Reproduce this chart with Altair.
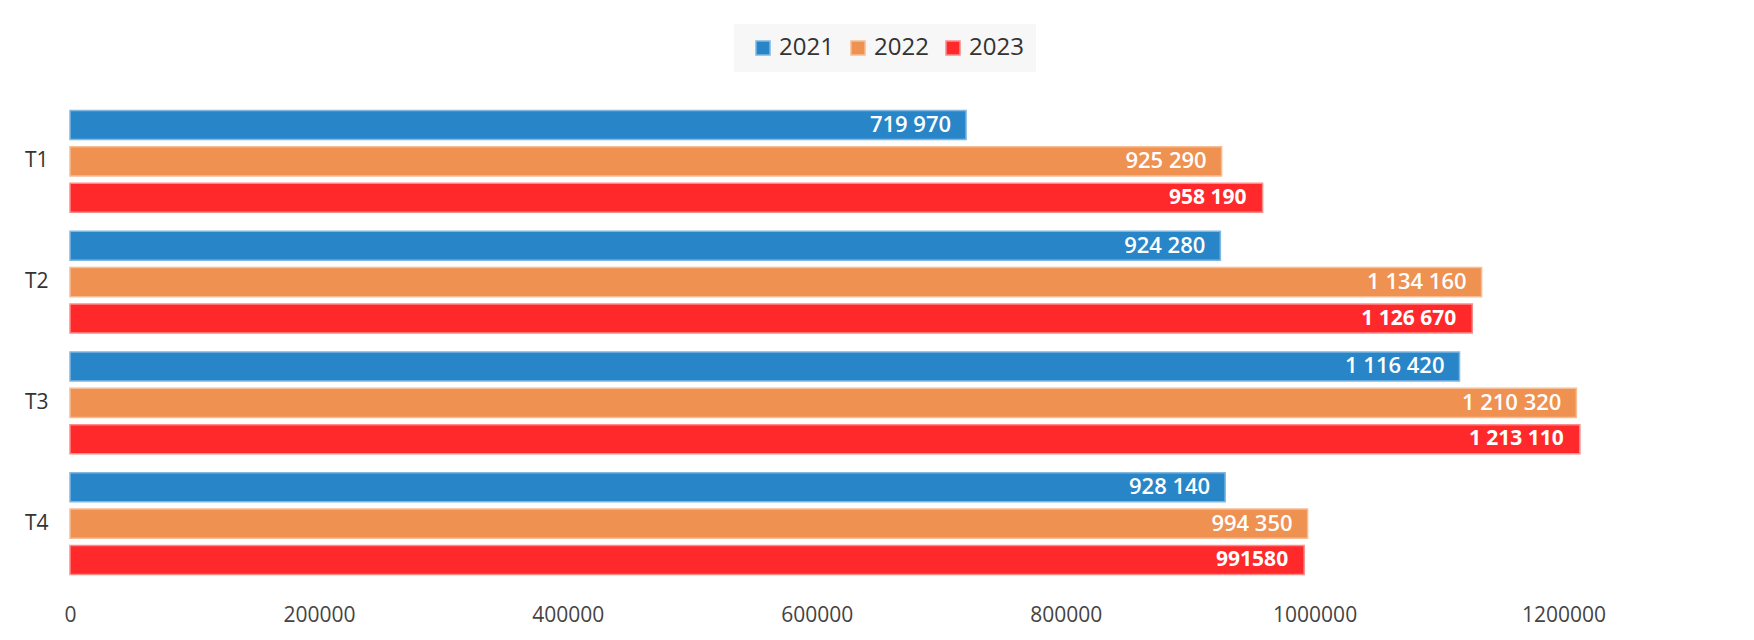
import altair as alt
import pandas as pd

quarters = ["T1", "T2", "T3", "T4"]
years = ["2021", "2022", "2023"]
values_2021 = [719970, 924280, 1116420, 928140]
values_2022 = [925290, 1134160, 1210320, 994350]
values_2023 = [958190, 1126670, 1213110, 991580]
labels_2021 = ["719 970", "924 280", "1 116 420", "928 140"]
labels_2022 = ["925 290", "1 134 160", "1 210 320", "994 350"]
labels_2023 = ["958 190", "1 126 670", "1 213 110", "991580"]
x_ticks = [0, 200000, 400000, 600000, 800000, 1000000, 1200000]

fills = ["#2886c8", "#ef9150", "#ff282a"]
strokes = ["#80b8e2", "#f6bd95", "#ff8a8a"]

rows = []
for y, vals, labs in zip(years, [values_2021, values_2022, values_2023],
                         [labels_2021, labels_2022, labels_2023]):
    for q, v, l in zip(quarters, vals, labs):
        rows.append({"quarter": q, "year": y, "value": v, "label": l})
df = pd.DataFrame(rows)

FONT = "Open Sans"

y_enc = alt.Y("quarter:N", sort=quarters,
              scale=alt.Scale(paddingInner=0.156, paddingOuter=0.078),
              axis=alt.Axis(title=None, domain=False, ticks=False, labelFont=FONT,
                            labelFontSize=21, labelColor="#333333", labelPadding=22))
yoff_enc = alt.YOffset("year:N", sort=years,
                       scale=alt.Scale(paddingInner=0.2, paddingOuter=0))
x_enc = alt.X("value:Q", scale=alt.Scale(domain=[0, 1300000], nice=False),
              axis=alt.Axis(title=None, domain=False, ticks=False, grid=False,
                            values=x_ticks, format="d", labelFont=FONT, labelFlush=False,
                            labelFontSize=21, labelColor="#444444", labelPadding=20))

legend_cfg = dict(title=None, orient="none", direction="horizontal",
                  legendX=664, legendY=-77, fillColor="#f7f7f7",
                  padding=12, symbolOffset=5, symbolType="square",
                  symbolSize=196, symbolStrokeWidth=1.5,
                  labelFont=FONT, labelFontSize=24,
                  labelColor="#333333", labelOffset=4,
                  columnPadding=7)

bars = alt.Chart(df).mark_bar(strokeWidth=1.5).encode(
    x=x_enc,
    y=y_enc,
    yOffset=yoff_enc,
    color=alt.Color("year:N", sort=years,
                    scale=alt.Scale(domain=years, range=fills),
                    legend=alt.Legend(**legend_cfg)),
    stroke=alt.Stroke("year:N", sort=years,
                      scale=alt.Scale(domain=years, range=strokes),
                      legend=alt.Legend(**legend_cfg)),
)

text_normal = alt.Chart(df).transform_filter(alt.datum.year != "2023").mark_text(
    align="right", baseline="middle", dx=-15, color="white", font=FONT,
    fontSize=22, fontWeight=600
).encode(x="value:Q", y=alt.Y("quarter:N", sort=quarters),
         yOffset=alt.YOffset("year:N", sort=years), text="label:N")

text_bold = alt.Chart(df).transform_filter(alt.datum.year == "2023").mark_text(
    align="right", baseline="middle", dx=-16, color="white", font=FONT,
    fontSize=21, fontWeight="bold"
).encode(x="value:Q", y=alt.Y("quarter:N", sort=quarters),
         yOffset=alt.YOffset("year:N", sort=years), text="label:N")

chart = alt.layer(bars, text_normal, text_bold).properties(
    width=1618, height=483,
    autosize=alt.AutoSizeParams(type="none"),
    padding={"left": 62, "top": 93, "right": 50, "bottom": 49},
    background="white",
).configure_view(stroke=None)

chart.save("out.html", embed_options={"renderer": "svg", "actions": False})
